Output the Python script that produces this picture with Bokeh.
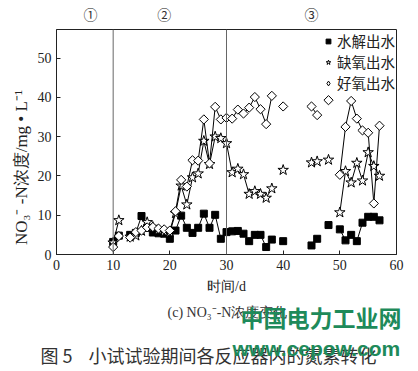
import numpy as np
from bokeh.plotting import figure
from bokeh.layouts import column
from bokeh.models import Span, Legend, LegendItem, Range1d, LinearAxis, FixedTicker
from bokeh.core.properties import value
from bokeh.embed import file_html
from bokeh.resources import INLINE

nan = np.nan
days = list(range(10, 58))

hydrolysis = [3.2, 4.8, nan, 5.0, 5.5, 9.8, 6.8, 5.6, 5.4, 5.3,
              4.0, 6.1, 9.9, 6.8, 5.5, 6.8, 10.4, 6.8, 10.1, 4.0,
              5.7, 5.9, 6.0, 5.3, 3.4, 5.0, 5.0, 1.9, 3.8, nan,
              3.4, nan, nan, nan, nan, 2.3, 4.0, nan, 7.5, nan,
              6.4, 3.6, 5.0, 3.4, 8.1, 9.6, 9.6, 8.7]
anoxic = [3.0, 8.7, nan, 4.5, 4.8, 6.0, 8.2, 7.0, 6.2, 5.8,
          5.6, 10.5, 17.5, 12.7, 19.6, 20.6, 28.9, 23.0, 30.0, 29.6,
          28.3, 20.9, 21.8, 20.4, 15.4, 16.1, 15.4, 14.4, 16.8, nan,
          21.5, nan, nan, nan, nan, 23.4, 23.7, nan, 24.1, nan,
          10.7, 21.2, 18.3, 23.3, 18.8, 26.0, 22.5, 20.0]
aerobic = [1.9, 4.7, nan, 4.3, 5.7, 6.1, 6.9, 7.0, 6.6, 6.4,
           6.1, 11.0, 19.0, 17.3, 24.0, 23.9, 34.4, 23.2, 37.6, 34.4,
           34.8, 34.6, 36.9, 35.9, 37.4, 40.1, 37.0, 33.2, 40.4, nan,
           37.7, nan, nan, nan, nan, 37.7, 35.5, nan, 39.3, nan,
           20.3, 32.5, 39.1, 34.6, 31.6, 31.0, 13.0, 32.8]

series_names = ["水解出水", "缺氧出水", "好氧出水"]
x_ticks = [0, 10, 20, 30, 40, 50, 60]
y_ticks = [0, 10, 20, 30, 40, 50]
stage_lines = [10, 30]
stage_labels = ["①", "②", "③"]
stage_label_x = [6, 19, 45]

SERIF = "Liberation Serif"
CJK = "Noto Sans CJK SC"

p = figure(width=418, height=300, output_backend="svg", toolbar_location=None,
           x_range=Range1d(0, 60), y_range=Range1d(0, 57.3),
           min_border_left=56, min_border_right=22, min_border_top=28,
           min_border_bottom=46)
p.frame_align = False
p.grid.visible = False
p.outline_line_color = "#222222"
p.outline_line_width = 1

for ax in (p.xaxis, p.yaxis):
    ax.major_tick_in = 4
    ax.major_tick_out = 0
    ax.minor_tick_line_color = None
    ax.axis_line_color = "#222222"
    ax.major_tick_line_color = "#222222"
    ax.major_label_text_font = SERIF
    ax.major_label_text_font_size = "14px"
    ax.major_label_text_color = "#222222"
    ax.axis_label_text_font = SERIF
    ax.axis_label_text_font_size = "14px"
    ax.axis_label_text_font_style = "normal"
    ax.axis_label_text_color = "#222222"

p.xaxis.ticker = x_ticks
p.yaxis.ticker = y_ticks
p.xaxis.axis_label = "时间/d"
p.xaxis.axis_label_standoff = 6
# trailing em spaces shift the visible label toward the bottom, as in the original
p.yaxis.axis_label = "NO₃⁻ -N浓度/mg • L⁻¹\u2003\u2003\u2003"
p.yaxis.axis_label_text_font_size = "17px"
p.yaxis.axis_label_standoff = 4

# stage markers above the frame
top_axis = LinearAxis(ticker=FixedTicker(ticks=stage_label_x),
                      major_label_overrides={k: v for k, v in zip(stage_label_x, stage_labels)},
                      axis_line_color=None, major_tick_line_color=None, minor_tick_line_color=None,
                      major_label_text_font=CJK, major_label_text_font_size="14px",
                      major_label_text_color="#333333", major_label_standoff=0)
p.add_layout(top_axis, "above")

for loc in stage_lines:
    p.add_layout(Span(location=loc, dimension="height", line_color="#666666", line_width=1))

p.line(days, hydrolysis, line_color="black", line_width=1)
m1 = p.scatter(days, hydrolysis, marker="square", size=7, fill_color="black", line_color="black")
p.line(days, anoxic, line_color="black", line_width=1)
m2 = p.scatter(days, anoxic, marker="star", size=11, fill_color="white", line_color="black", line_width=1)
p.line(days, aerobic, line_color="black", line_width=1)
p.scatter(days, aerobic, marker="square", angle=np.pi / 4, size=6.5, fill_color="white",
          line_color="black", line_width=1)
m3 = p.scatter([nan], [nan], marker="diamond", size=9, fill_color="white",
               line_color="black", line_width=1)

legend = Legend(items=[LegendItem(label=series_names[0], renderers=[m1]),
                       LegendItem(label=series_names[1], renderers=[m2]),
                       LegendItem(label=series_names[2], renderers=[m3])],
                location="top_right", border_line_color=None, background_fill_alpha=0,
                label_text_font=CJK, label_text_font_size="14.5px", label_text_color="#222222",
                glyph_width=12, glyph_height=12, label_height=12, spacing=0, padding=0, margin=1,
                label_standoff=3)
p.add_layout(legend)

# caption area below the chart
q = figure(width=418, height=71, output_backend="svg", toolbar_location=None,
           x_range=Range1d(0, 418), y_range=Range1d(71, 0),
           min_border=0, min_border_left=0, min_border_right=0, min_border_top=0, min_border_bottom=0)
q.frame_align = False
q.axis.visible = False
q.grid.visible = False
q.outline_line_color = None

q.text(x=[167], y=[12], text=["(c) NO₃⁻-N浓度变化"], text_baseline="middle",
       text_font=value(SERIF), text_font_size="14px", text_color="#333333")
q.text(x=[40], y=[54], text=["图 5"], text_baseline="middle",
       text_font=value(CJK), text_font_size="18px", text_color="#333333")
q.text(x=[88], y=[54], text=["小试试验期间各反应器内的氮素转化"], text_baseline="middle",
       text_font=value(CJK), text_font_size="18px", text_color="#333333")
q.text(x=[240], y=[16], text=["中国电力工业网"], text_baseline="middle",
       text_font=value(CJK), text_font_size="23px", text_font_style="bold", text_color="#1e8a5a")
q.text(x=[232], y=[48], text=["www.cepow.com"], text_baseline="alphabetic",
       text_font=value("Liberation Sans"), text_font_size="21px", text_font_style="bold",
       text_color="#1e8a5a")

layout = column(p, q, spacing=0)
open("out.html", "w").write(file_html(layout, INLINE))
